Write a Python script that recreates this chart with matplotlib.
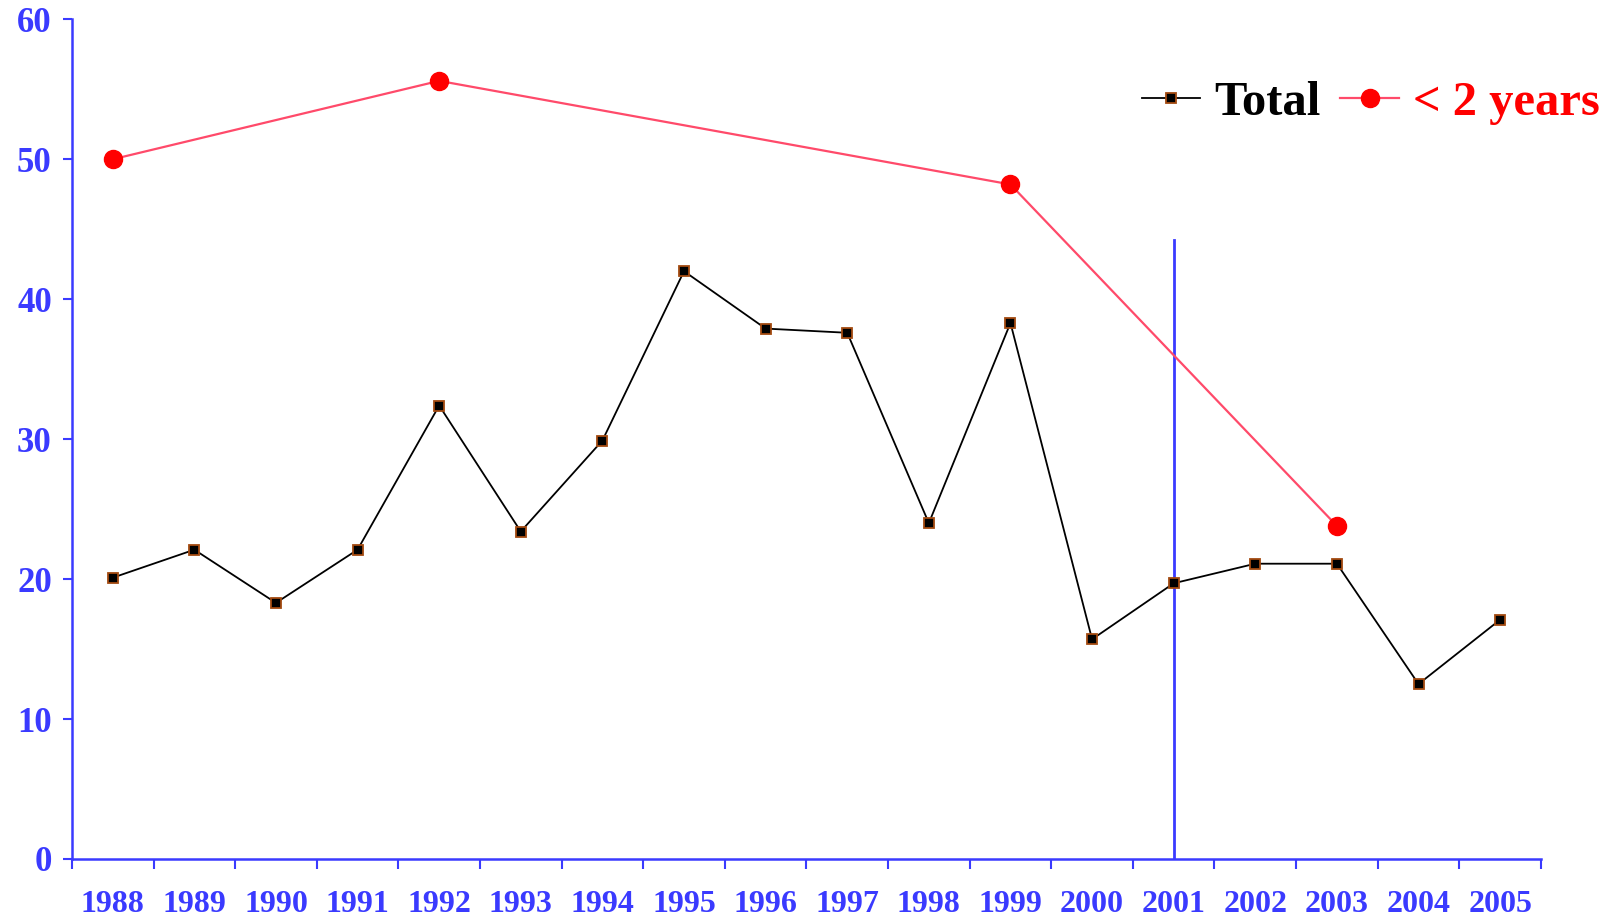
import matplotlib
matplotlib.use("Agg")
import matplotlib.pyplot as plt
from matplotlib.ticker import FixedLocator

# data
years = [str(y) for y in range(1988, 2006)]
total = [20.1, 22.1, 18.3, 22.1, 32.4, 23.4, 29.9, 42.0, 37.9, 37.6,
         24.0, 38.3, 15.7, 19.7, 21.1, 21.1, 12.5, 17.1]
under2_years = ["1988", "1992", "1999", "2003"]
under2 = [50.0, 55.6, 48.2, 23.8]
marker_year = "2001"
marker_top = 44.2

blue = "#3a3aff"
plt.rcParams['font.family'] = ['Liberation Serif', 'DejaVu Serif']

fig = plt.figure(figsize=(16.09, 9.19), dpi=100)
ax = fig.add_axes([0.0447, 0.0653, 0.9130, 0.9137])

x_total = [years.index(y) for y in years]
x_under = [years.index(y) for y in under2_years]

ax.plot(x_total, total, color="black", lw=1.3, marker="s", markersize=7.5,
        markerfacecolor="black", markeredgecolor="#a34a10", markeredgewidth=1.3,
        label="Total", zorder=3)
ax.plot(x_under, under2, color="#ff4a6a", lw=1.6, marker="o", markersize=13,
        markerfacecolor="#ff0000", markeredgecolor="#ff0000",
        label="< 2 years", zorder=3)

# vertical marker line at 2001
xv = years.index(marker_year)
ax.plot([xv, xv], [0, marker_top], color=blue, lw=2, zorder=2)

ax.set_xlim(-0.5, len(years) - 0.5)
ax.set_ylim(0, 60)
ax.set_yticks(range(0, 61, 10))

# category axis: labels centred, ticks between categories
ax.set_xticks(range(len(years)))
ax.set_xticklabels(years)
ax.xaxis.set_minor_locator(FixedLocator([i - 0.5 for i in range(len(years) + 1)]))
ax.tick_params(axis="x", which="major", length=0, pad=22, labelsize=23,
               labelcolor=blue)
ax.tick_params(axis="x", which="minor", length=7.5, width=1.5, color=blue,
               direction="out")
ax.tick_params(axis="y", length=6.5, width=1.5, color=blue, pad=8,
               labelsize=25, labelcolor=blue)
for lab in ax.get_xticklabels() + ax.get_yticklabels():
    lab.set_fontweight("bold")

for side in ["top", "right"]:
    ax.spines[side].set_visible(False)
for side in ["left", "bottom"]:
    ax.spines[side].set_color(blue)
    ax.spines[side].set_linewidth(1.8)

leg = fig.legend(loc="upper right", bbox_to_anchor=(0.9945, 0.912), ncol=2,
                 frameon=False, borderaxespad=0, borderpad=0,
                 handlelength=1.2, handletextpad=0.3,
                 columnspacing=0.4, prop={"size": 35, "weight": "bold"},
                 markerscale=1.0)
for text, col in zip(leg.get_texts(), ["black", "#ff0000"]):
    text.set_color(col)

fig.savefig("out.png", dpi=100)
